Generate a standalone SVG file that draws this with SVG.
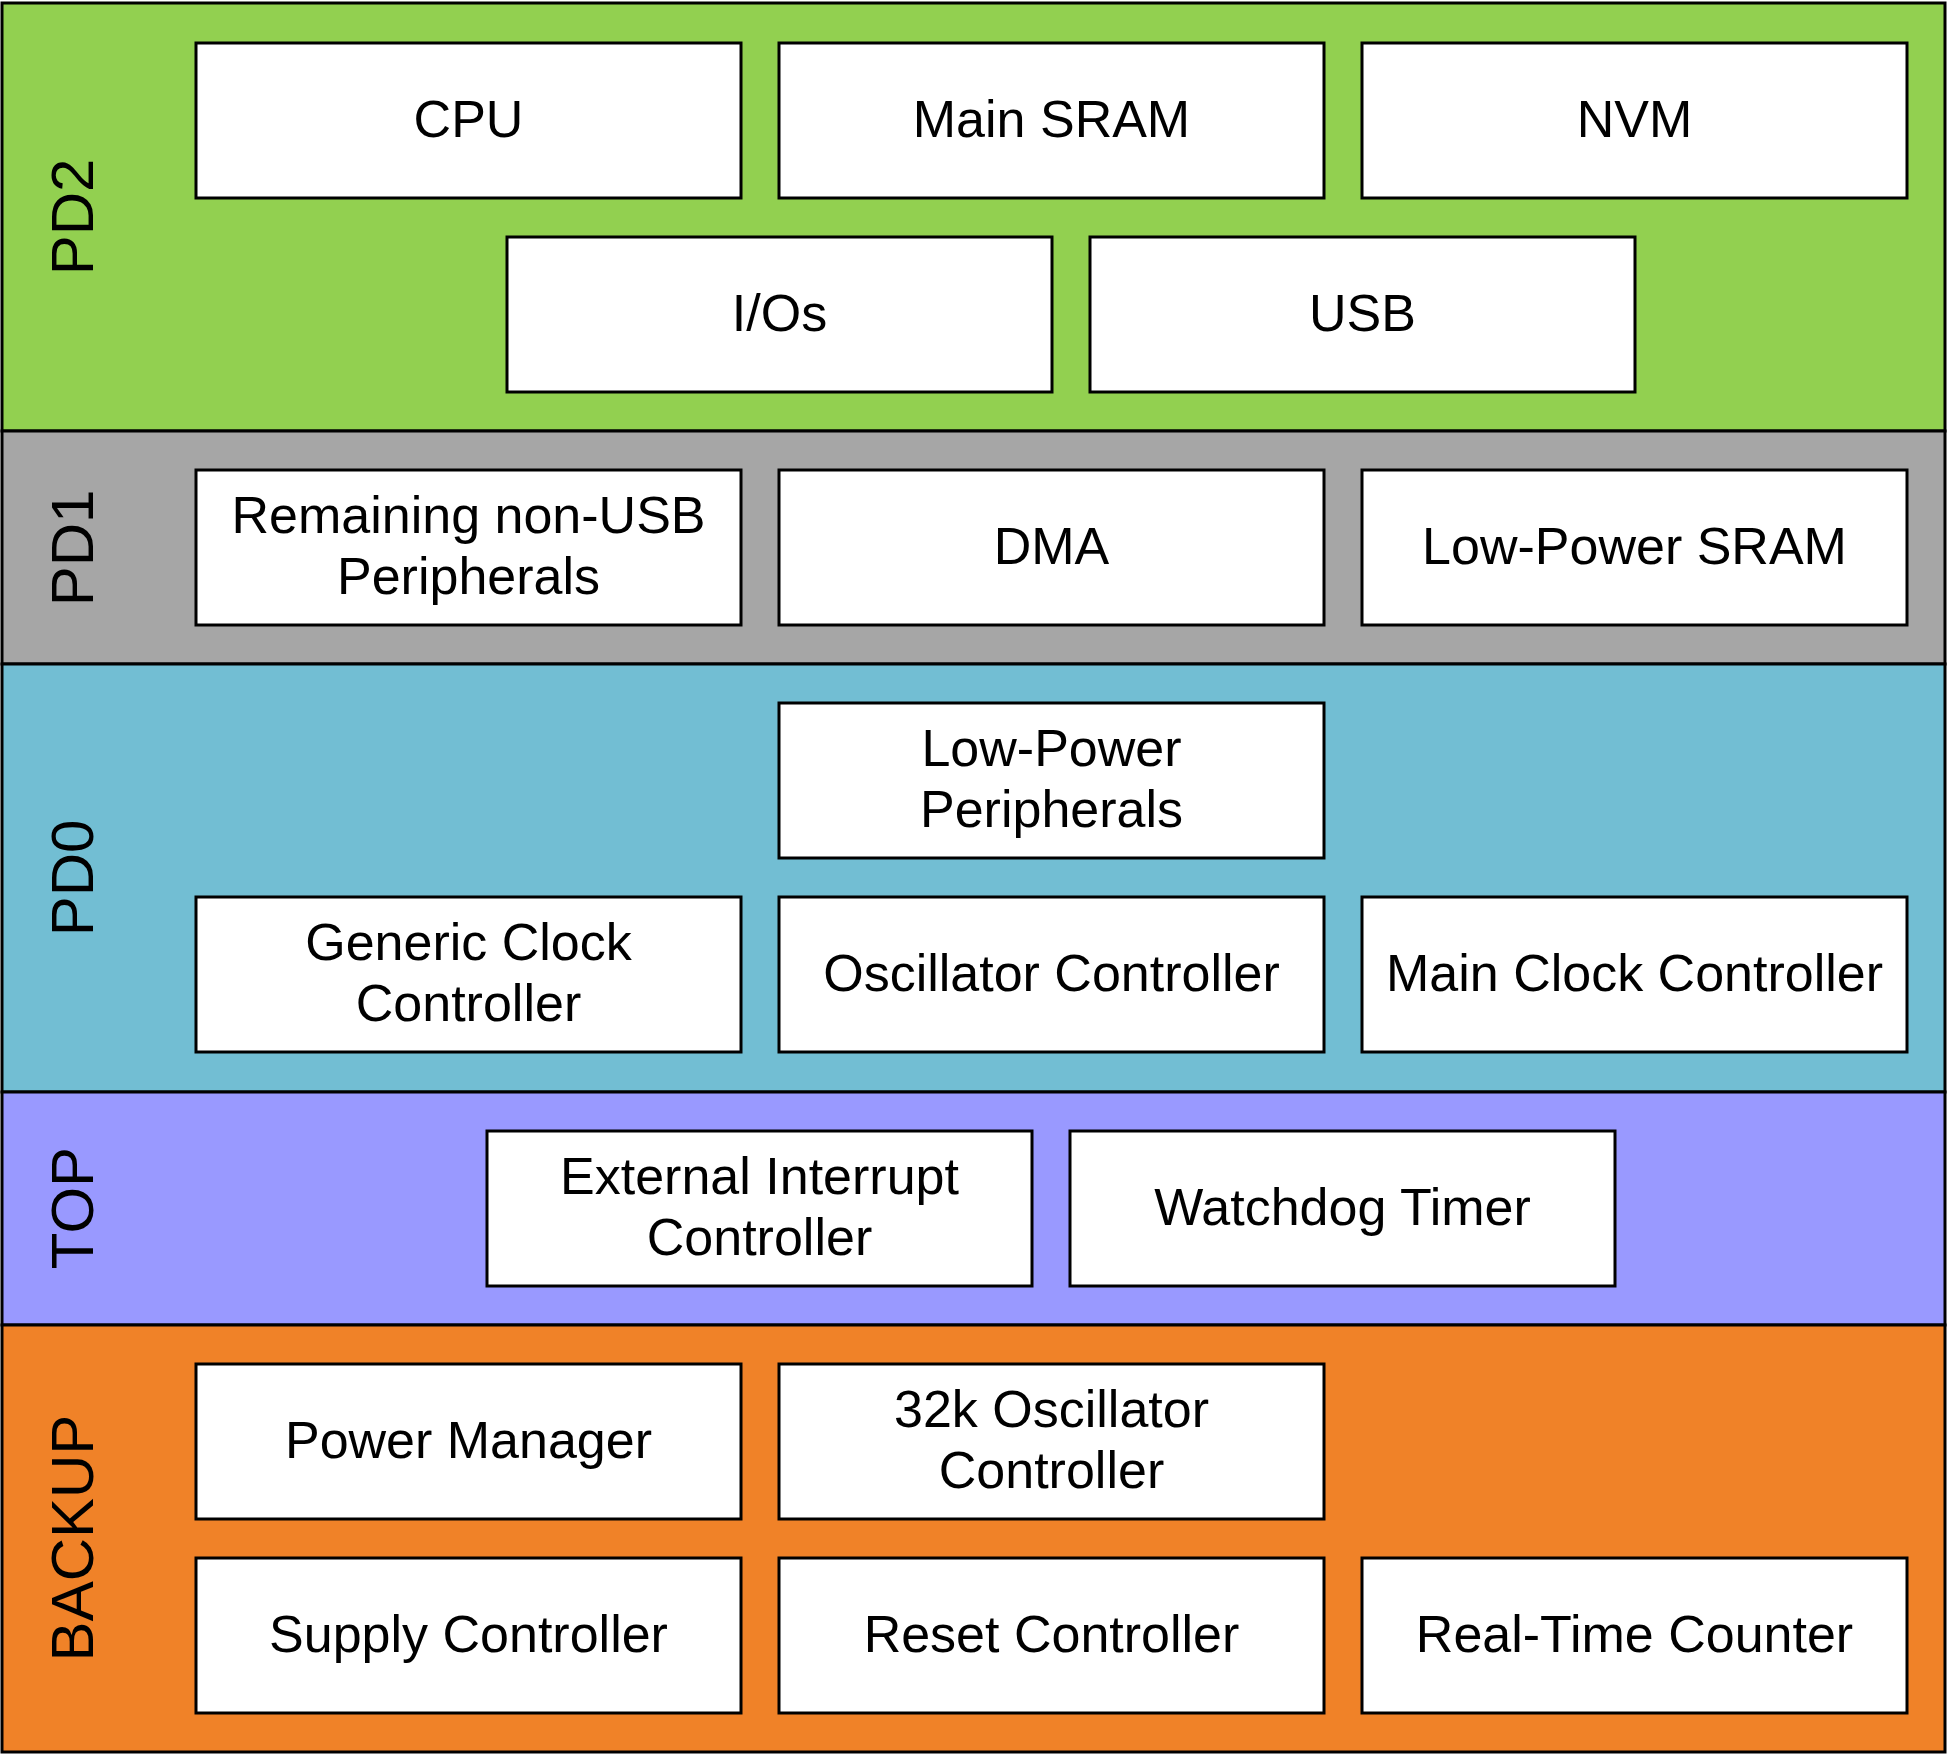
<svg xmlns="http://www.w3.org/2000/svg" width="1950" height="1756" viewBox="0 0 1950 1756">
<style>
.band{stroke:#000;stroke-width:3}
.box rect{fill:#fff;stroke:#000;stroke-width:3}
.box text{font-family:"Liberation Sans",Arial,sans-serif;font-size:52px;fill:#000;text-anchor:middle}
.lbl{font-family:"Liberation Sans",Arial,sans-serif;font-size:60px;fill:#000;text-anchor:middle}
</style>
<g id="bands">
<g id="band-PD2"><rect class="band" x="2" y="3" width="1943" height="428" fill="#92D050"/><text class="lbl" transform="translate(93,217) rotate(-90)">PD2</text></g>
<g id="band-PD1"><rect class="band" x="2" y="431" width="1943" height="233" fill="#A6A6A6"/><text class="lbl" transform="translate(93,548) rotate(-90)">PD1</text></g>
<g id="band-PD0"><rect class="band" x="2" y="664" width="1943" height="428" fill="#72BED3"/><text class="lbl" transform="translate(93,878) rotate(-90)">PD0</text></g>
<g id="band-TOP"><rect class="band" x="2" y="1092" width="1943" height="233" fill="#9999FF"/><text class="lbl" transform="translate(93,1208) rotate(-90)">TOP</text></g>
<g id="band-BACKUP"><rect class="band" x="2" y="1325" width="1943" height="427" fill="#F08228"/><text class="lbl" transform="translate(93,1538) rotate(-90)">BACKUP</text></g>
</g>
<g id="connectors"></g>
<g id="cpu" class="box"><rect x="196" y="43" width="545" height="155"/><text x="468.5" y="137">CPU</text></g>
<g id="main-sram" class="box"><rect x="779" y="43" width="545" height="155"/><text x="1051.5" y="137">Main SRAM</text></g>
<g id="nvm" class="box"><rect x="1362" y="43" width="545" height="155"/><text x="1634.5" y="137">NVM</text></g>
<g id="ios" class="box"><rect x="507" y="237" width="545" height="155"/><text x="779.5" y="331">I/Os</text></g>
<g id="usb" class="box"><rect x="1090" y="237" width="545" height="155"/><text x="1362.5" y="331">USB</text></g>
<g id="non-usb" class="box"><rect x="196" y="470" width="545" height="155"/><text x="468.5" y="533">Remaining non-USB</text><text x="468.5" y="594">Peripherals</text></g>
<g id="dma" class="box"><rect x="779" y="470" width="545" height="155"/><text x="1051.5" y="564">DMA</text></g>
<g id="lp-sram" class="box"><rect x="1362" y="470" width="545" height="155"/><text x="1634.5" y="564">Low-Power SRAM</text></g>
<g id="lp-periph" class="box"><rect x="779" y="703" width="545" height="155"/><text x="1051.5" y="766">Low-Power</text><text x="1051.5" y="827">Peripherals</text></g>
<g id="gclk" class="box"><rect x="196" y="897" width="545" height="155"/><text x="468.5" y="960">Generic Clock</text><text x="468.5" y="1021">Controller</text></g>
<g id="oscctrl" class="box"><rect x="779" y="897" width="545" height="155"/><text x="1051.5" y="991">Oscillator Controller</text></g>
<g id="mclk" class="box"><rect x="1362" y="897" width="545" height="155"/><text x="1634.5" y="991">Main Clock Controller</text></g>
<g id="eic" class="box"><rect x="487" y="1131" width="545" height="155"/><text x="759.5" y="1194">External Interrupt</text><text x="759.5" y="1255">Controller</text></g>
<g id="wdt" class="box"><rect x="1070" y="1131" width="545" height="155"/><text x="1342.5" y="1225">Watchdog Timer</text></g>
<g id="pm" class="box"><rect x="196" y="1364" width="545" height="155"/><text x="468.5" y="1458">Power Manager</text></g>
<g id="osc32k" class="box"><rect x="779" y="1364" width="545" height="155"/><text x="1051.5" y="1427">32k Oscillator</text><text x="1051.5" y="1488">Controller</text></g>
<g id="supc" class="box"><rect x="196" y="1558" width="545" height="155"/><text x="468.5" y="1652">Supply Controller</text></g>
<g id="rstc" class="box"><rect x="779" y="1558" width="545" height="155"/><text x="1051.5" y="1652">Reset Controller</text></g>
<g id="rtc" class="box"><rect x="1362" y="1558" width="545" height="155"/><text x="1634.5" y="1652">Real-Time Counter</text></g>
</svg>
